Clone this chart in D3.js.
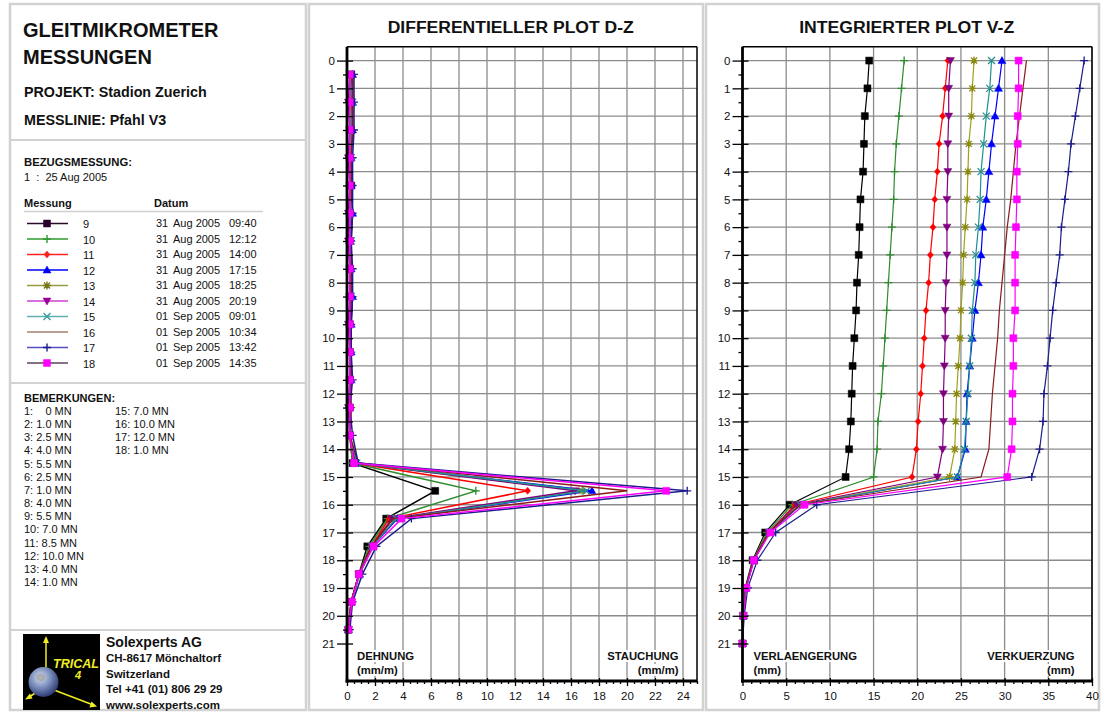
<!DOCTYPE html>
<html>
<head>
<meta charset="utf-8">
<script src="https://cdn.jsdelivr.net/npm/d3@7/dist/d3.min.js"></script>
<style>
  body { margin: 0; background: #fff; }
  svg text { font-family: "Liberation Sans", Arial, sans-serif; fill: #111; }
</style>
</head>
<body>
<div id="chart"></div>
<script>
// ---- data ----
const depthTicks = [0,1,2,3,4,5,6,7,8,9,10,11,12,13,14,15,16,17,18,19,20,21];
const depthsInt  = [0,1,2,3,4,5,6,7,8,9,10,11,12,13,14,15,16,17,18,19,20,21];
const depthsDiff = [0.5,1.5,2.5,3.5,4.5,5.5,6.5,7.5,8.5,9.5,10.5,11.5,12.5,13.5,14.5,15.5,16.5,17.5,18.5,19.5,20.5];
const diffTicks = [0,2,4,6,8,10,12,14,16,18,20,22,24];
const intTicks  = [0,5,10,15,20,25,30,35,40];

const measIds    = [9,10,11,12,13,14,15,16,17,18];
const measDays   = ['31','31','31','31','31','31','01','01','01','01'];
const measMonths = ['Aug 2005','Aug 2005','Aug 2005','Aug 2005','Aug 2005','Aug 2005','Sep 2005','Sep 2005','Sep 2005','Sep 2005'];
const measTimes  = ['09:40','12:12','14:00','17:15','18:25','20:19','09:01','10:34','13:42','14:35'];

const remarksCol1 = ['1:    0 MN','2: 1.0 MN','3: 2.5 MN','4: 4.0 MN','5: 5.5 MN','6: 2.5 MN','7: 1.0 MN',
                     '8: 4.0 MN','9: 5.5 MN','10: 7.0 MN','11: 8.5 MN','12: 10.0 MN','13: 4.0 MN','14: 1.0 MN'];
const remarksCol2 = ['15: 7.0 MN','16: 10.0 MN','17: 12.0 MN','18: 1.0 MN'];

// differential D-Z (mm/m) at depthsDiff
const dz9  = [0.3,0.3,0.2,0.2,0.3,0.2,0.2,0.2,0.2,0.2,0.2,0.2,0.2,0.2,0.4,6.3,2.8,1.45,0.85,0.3,0.1];
const dz10 = [0.3,0.3,0.3,0.2,0.2,0.2,0.2,0.2,0.2,0.2,0.2,0.2,0.3,0.2,0.4,9.2,2.9,1.6,0.85,0.3,0.1];
const dz11 = [0.3,0.3,0.4,0.2,0.3,0.2,0.3,0.2,0.3,0.2,0.2,0.2,0.3,0.2,0.5,12.9,3.0,1.75,0.85,0.3,0.1];
const dz12 = [0.4,0.4,0.4,0.3,0.3,0.4,0.2,0.3,0.4,0.3,0.3,0.3,0.2,0.2,0.6,17.5,3.6,1.8,0.9,0.3,0.1];
const dz13 = [0.2,0.2,0.3,0.2,0.2,0.2,0.2,0.2,0.2,0.2,0.2,0.2,0.2,0.2,0.6,16.8,3.3,1.8,0.9,0.3,0.1];
const dz14 = [0.2,0.1,0.2,0.1,0.2,0.1,0.1,0.2,0.2,0.1,0.2,0.2,0.1,0.2,0.6,16.3,3.2,1.75,0.85,0.3,0.1];
const dz15 = [0.2,0.4,0.3,0.3,0.2,0.2,0.3,0.2,0.3,0.2,0.2,0.2,0.2,0.2,0.7,17.1,3.5,1.8,0.9,0.3,0.1];
const dz16 = [0.4,0.4,0.4,0.3,0.3,0.4,0.3,0.3,0.3,0.2,0.3,0.3,0.2,0.2,0.8,20.0,3.3,1.75,0.85,0.3,0.1];
const dz17 = [0.5,0.5,0.5,0.4,0.4,0.4,0.3,0.4,0.4,0.3,0.3,0.4,0.2,0.4,0.8,24.3,4.6,2.1,1.1,0.4,0.2];
const dz18 = [0.2,0.2,0.2,0.2,0.2,0.2,0.2,0.2,0.2,0.2,0.2,0.2,0.2,0.2,0.5,22.8,3.9,1.9,0.85,0.35,0.1];

// integrated V-Z (mm) at depthsInt
const vz9  = [14.5,14.3,14.0,13.9,13.8,13.5,13.4,13.3,13.1,13.0,12.8,12.6,12.5,12.4,12.2,11.8,5.4,2.6,1.15,0.3,0.1,0];
const vz10 = [18.5,18.2,17.9,17.6,17.4,17.3,17.1,16.9,16.7,16.5,16.3,16.1,15.9,15.5,15.4,15.0,5.7,2.8,1.2,0.35,0.1,0];
const vz11 = [23.5,23.2,22.9,22.5,22.3,22.0,21.8,21.5,21.3,21.0,20.8,20.6,20.4,20.1,19.9,19.4,6.0,3.0,1.25,0.4,0.1,0];
const vz12 = [29.7,29.3,28.9,28.5,28.2,27.9,27.5,27.3,27.0,26.6,26.3,26.0,25.7,25.6,25.5,24.6,6.7,3.1,1.3,0.4,0.1,0];
const vz13 = [26.5,26.3,26.2,25.9,25.8,25.7,25.5,25.3,25.2,25.0,24.9,24.7,24.5,24.4,24.3,23.7,6.4,3.1,1.3,0.4,0.1,0];
const vz14 = [23.8,23.6,23.6,23.5,23.5,23.4,23.4,23.4,23.3,23.2,23.2,23.1,23.0,23.0,22.9,22.3,6.2,3.0,1.25,0.4,0.1,0];
const vz15 = [28.5,28.3,27.9,27.6,27.3,27.2,27.0,26.7,26.6,26.3,26.2,26.0,25.8,25.6,25.4,24.6,6.6,3.1,1.3,0.4,0.1,0];
const vz16 = [32.5,32.1,31.7,31.3,31.0,30.7,30.3,30.0,29.7,29.4,29.2,28.9,28.6,28.4,28.2,27.3,6.6,3.0,1.25,0.4,0.1,0];
const vz17 = [39.1,38.6,38.1,37.6,37.3,36.9,36.5,36.3,35.9,35.5,35.2,34.9,34.5,34.4,34.0,33.1,8.5,3.8,1.7,0.6,0.2,0];
const vz18 = [31.6,31.6,31.5,31.5,31.4,31.4,31.3,31.2,31.2,31.2,31.0,31.0,30.9,30.9,30.8,30.3,7.1,3.2,1.3,0.45,0.1,0];

const diffValues = [dz9,dz10,dz11,dz12,dz13,dz14,dz15,dz16,dz17,dz18];
const intValues  = [vz9,vz10,vz11,vz12,vz13,vz14,vz15,vz16,vz17,vz18];

// ---- styles ----
const lineColors   = ['#000000','#2e8b2e','#ff0000','#0000ff','#a0a020','#800080','#209090','#8b1a1a','#1c1c8c','#ff00ff'];
const markerColors = ['#000000','#2e8b2e','#ff0000','#0000ff','#8a8a10','#800080','#209090','#8b1a1a','#1c1c8c','#ff00ff'];
const legendLineColors   = ['#2a0a2a','#2e9a2e','#ff2020','#0000ff','#9a9a40','#d040d0','#60b0b0','#a08070','#5050c0','#604060'];
const legendMarkerColors = ['#2a002a','#2e9a2e','#ff2020','#0000ff','#77771a','#990099','#3a9a9a','none','#1c1c8c','#ff00ff'];
const markerTypes = ['square','plus','diamond','triUp','asterisk','triDown','times','none','plus','square'];

const markerPaths = {
  square: 'M-3.5,-3.5H3.5V3.5H-3.5Z',
  plus: 'M-4,0H4M0,-4V4',
  diamond: 'M0,-3.5L3,0L0,3.5L-3,0Z',
  triUp: 'M0,-4L4,3L-4,3Z',
  triDown: 'M0,4L4,-3L-4,-3Z',
  asterisk: 'M-4,0H4M0,-4V4M-3,-3L3,3M-3,3L3,-3',
  times: 'M-3.5,-3.5L3.5,3.5M-3.5,3.5L3.5,-3.5',
  none: ''
};
const filledMarkers = ['square','diamond','triUp','triDown'];

const series = measIds.map((id, i) => ({
  id: id,
  color: lineColors[i],
  mColor: markerColors[i],
  marker: markerTypes[i],
  diff: depthsDiff.map((z, k) => ({ z: z, v: diffValues[i][k] })),
  integ: depthsInt.map((z, k) => ({ z: z, v: intValues[i][k] }))
}));

const W = 1105, H = 713;
const frameColor = '#d2d2d2';
const gridColor = '#8c8c8c';
const plotTop = 46.7, plotBottom = 681;

const svg = d3.select('#chart')
  .append('svg')
  .attr('width', W)
  .attr('height', H);

// ---- panel frames ----
[[10, 4, 296, 706], [309, 4, 394, 706], [706, 4, 393, 706]].forEach(r => {
  svg.append('rect')
    .attr('x', r[0]).attr('y', r[1]).attr('width', r[2]).attr('height', r[3])
    .attr('fill', '#fff').attr('stroke', frameColor).attr('stroke-width', 2.5);
});
[140, 383, 630].forEach(y => {
  svg.append('line').attr('x1', 10).attr('x2', 306).attr('y1', y).attr('y2', y)
    .attr('stroke', frameColor).attr('stroke-width', 2);
});

// ---- left panel texts ----
const left = svg.append('g');
left.append('text').attr('x', 23).attr('y', 37).attr('font-size', 20).attr('font-weight', 'bold').text('GLEITMIKROMETER');
left.append('text').attr('x', 23).attr('y', 64).attr('font-size', 20).attr('font-weight', 'bold').text('MESSUNGEN');
left.append('text').attr('x', 24).attr('y', 97).attr('font-size', 14.3).attr('font-weight', 'bold').text('PROJEKT: Stadion Zuerich');
left.append('text').attr('x', 24).attr('y', 125).attr('font-size', 14.3).attr('font-weight', 'bold').text('MESSLINIE: Pfahl V3');
left.append('text').attr('x', 24).attr('y', 165.5).attr('font-size', 11.3).attr('font-weight', 'bold').text('BEZUGSMESSUNG:');
left.append('text').attr('x', 24).attr('y', 181).attr('font-size', 11).style('white-space', 'pre').text('1  :  25 Aug 2005');

left.append('text').attr('x', 24).attr('y', 206.5).attr('font-size', 11).attr('font-weight', 'bold').text('Messung');
left.append('text').attr('x', 154).attr('y', 206.5).attr('font-size', 11).attr('font-weight', 'bold').text('Datum');
left.append('line').attr('x1', 24).attr('x2', 263).attr('y1', 211.5).attr('y2', 211.5)
  .attr('stroke', '#d0d0d0').attr('stroke-width', 1.5);

const rows = left.selectAll('.legend-row')
  .data(measIds)
  .enter()
  .append('g')
  .attr('class', 'legend-row')
  .attr('transform', (d, i) => `translate(0,${227 + i * 15.5})`);
rows.append('line')
  .attr('x1', 27).attr('x2', 68).attr('y1', -3.5).attr('y2', -3.5)
  .attr('stroke', (d, i) => legendLineColors[i]).attr('stroke-width', 1.6);
rows.append('path')
  .attr('transform', 'translate(47,-3.5)')
  .attr('d', (d, i) => markerPaths[markerTypes[i]])
  .attr('fill', (d, i) => filledMarkers.includes(markerTypes[i]) ? legendMarkerColors[i] : 'none')
  .attr('stroke', (d, i) => legendMarkerColors[i])
  .attr('stroke-width', (d, i) => filledMarkers.includes(markerTypes[i]) ? 0.5 : 1.4);
rows.append('text').attr('x', 83).attr('y', 1).attr('font-size', 11).text(d => d);
rows.append('text').attr('x', 156).attr('y', 0).attr('font-size', 11).text((d, i) => measDays[i]);
rows.append('text').attr('x', 173).attr('y', 0).attr('font-size', 11).text((d, i) => measMonths[i]);
rows.append('text').attr('x', 229).attr('y', 0).attr('font-size', 11).text((d, i) => measTimes[i]);

left.append('text').attr('x', 24).attr('y', 402).attr('font-size', 11).attr('font-weight', 'bold').text('BEMERKUNGEN:');
left.selectAll('.rem1').data(remarksCol1).enter().append('text')
  .attr('x', 24).attr('y', (d, i) => 415 + i * 13.15).attr('font-size', 11)
  .style('white-space', 'pre').text(d => d);
left.selectAll('.rem2').data(remarksCol2).enter().append('text')
  .attr('x', 115).attr('y', (d, i) => 415 + i * 13.15).attr('font-size', 11)
  .style('white-space', 'pre').text(d => d);

// ---- logo ----
const defs = svg.append('defs');
const grad = defs.append('radialGradient').attr('id', 'globe').attr('cx', '40%').attr('cy', '35%').attr('r', '70%');
grad.append('stop').attr('offset', '0%').attr('stop-color', '#d8e0f0');
grad.append('stop').attr('offset', '45%').attr('stop-color', '#7f93c0');
grad.append('stop').attr('offset', '100%').attr('stop-color', '#24306a');

const logo = svg.append('g');
logo.append('rect').attr('x', 23).attr('y', 634).attr('width', 77).attr('height', 76).attr('fill', '#000');
const yellow = '#f0ee20';
logo.append('line').attr('x1', 46).attr('y1', 670).attr('x2', 46).attr('y2', 640).attr('stroke', yellow).attr('stroke-width', 1.5);
logo.append('path').attr('d', 'M46,636L43,643L49,643Z').attr('fill', yellow);
logo.append('line').attr('x1', 40).attr('y1', 690).attr('x2', 29).attr('y2', 697).attr('stroke', yellow).attr('stroke-width', 1.5);
logo.append('path').attr('d', 'M25,699.5L30,693.5L32.5,698.5Z').attr('fill', yellow);
logo.append('line').attr('x1', 54).attr('y1', 690).attr('x2', 92).attr('y2', 704.5).attr('stroke', yellow).attr('stroke-width', 1.5);
logo.append('path').attr('d', 'M97,706.5L89.5,707.5L91.5,701.5Z').attr('fill', yellow);
logo.append('circle').attr('cx', 43.5).attr('cy', 682).attr('r', 15).attr('fill', 'url(#globe)');
logo.append('path').attr('d', 'M36,676 q4,-4 8,-1 q3,3 -1,6 q-5,2 -7,-5Z').attr('fill', '#9a9a8a').attr('opacity', 0.6);
logo.append('text').attr('x', 53).attr('y', 668).attr('font-size', 12.5).attr('font-weight', 'bold')
  .attr('font-style', 'italic').style('fill', yellow).text('TRICAL');
logo.append('text').attr('x', 75).attr('y', 679).attr('font-size', 11).attr('font-weight', 'bold')
  .attr('font-style', 'italic').style('fill', yellow).text('4');

const company = ['Solexperts AG', 'CH-8617 Mönchaltorf', 'Switzerland', 'Tel +41 (01) 806 29 29', 'www.solexperts.com'];
logo.selectAll('.comp').data(company).enter().append('text')
  .attr('x', 106)
  .attr('y', (d, i) => i === 0 ? 646.5 : 646.5 + 15.5 * i)
  .attr('font-size', (d, i) => i === 0 ? 14 : 11.5)
  .attr('font-weight', 'bold')
  .text(d => d);

// ---- charts ----
const yScale = d3.scaleLinear().domain([-0.5, 22.35]).range([plotTop, plotBottom]);

function drawPlot(p) {
  const x = d3.scaleLinear().domain(p.domain).range([p.x0, p.x1]);
  const g = svg.append('g');

  g.append('text')
    .attr('x', p.titleX).attr('y', 33)
    .attr('text-anchor', 'middle')
    .attr('font-size', 16).attr('font-weight', 'bold')
    .attr('textLength', p.titleW).attr('lengthAdjust', 'spacingAndGlyphs')
    .text(p.title);

  g.selectAll('.vgrid').data(p.ticks.slice(1)).enter().append('line')
    .attr('class', 'vgrid')
    .attr('x1', d => x(d)).attr('x2', d => x(d))
    .attr('y1', plotTop).attr('y2', plotBottom)
    .attr('stroke', gridColor).attr('stroke-width', 1.3);
  g.selectAll('.hgrid').data(depthTicks.slice(0, -1)).enter().append('line')
    .attr('class', 'hgrid')
    .attr('x1', p.x0).attr('x2', p.x1)
    .attr('y1', d => yScale(d)).attr('y2', d => yScale(d))
    .attr('stroke', gridColor).attr('stroke-width', 1.3);

  // corner labels on white boxes
  p.labels.forEach(l => {
    const t = g.append('text')
      .attr('x', l.x).attr('y', l.y)
      .attr('text-anchor', l.anchor)
      .attr('font-size', 11.3).attr('font-weight', 'bold')
      .text(l.text);
    const b = t.node().getBBox();
    g.insert('rect', () => t.node())
      .attr('x', b.x - 1).attr('y', b.y).attr('width', b.width + 2).attr('height', b.height)
      .attr('fill', '#fff');
  });

  const line = d3.line()
    .x(d => x(d.v))
    .y(d => yScale(d.z));

  series.forEach(s => {
    const pts = s[p.key];
    g.append('path')
      .datum(pts)
      .attr('d', line)
      .attr('fill', 'none')
      .attr('stroke', s.color)
      .attr('stroke-width', p.lineWidth);
    if (s.marker !== 'none') {
      const filled = filledMarkers.includes(s.marker);
      g.selectAll(null).data(pts).enter().append('path')
        .attr('transform', d => `translate(${x(d.v)},${yScale(d.z)})`)
        .attr('d', markerPaths[s.marker])
        .attr('fill', filled ? s.mColor : 'none')
        .attr('stroke', s.mColor)
        .attr('stroke-width', filled ? 0.5 : 1.3);
    }
  });

  // frame top / right
  g.append('line').attr('x1', p.x0).attr('x2', p.x1).attr('y1', plotTop).attr('y2', plotTop)
    .attr('stroke', '#000').attr('stroke-width', 1.5);
  g.append('line').attr('x1', p.x1).attr('x2', p.x1).attr('y1', plotTop).attr('y2', plotBottom)
    .attr('stroke', '#000').attr('stroke-width', 1.5);

  // y axis
  const yAxis = g.append('g').attr('transform', `translate(${p.x0},0)`);
  yAxis.call(d3.axisLeft(yScale).tickValues(depthTicks).tickSize(10).tickPadding(2).tickSizeOuter(0))
    .call(a => a.select('.domain').remove());
  yAxis.append('g').call(d3.axisRight(yScale).tickValues(depthTicks).tickSize(6).tickFormat('').tickSizeOuter(0))
    .call(a => a.select('.domain').remove());
  yAxis.append('g').call(d3.axisLeft(yScale).tickValues(depthsDiff).tickSize(4).tickFormat('').tickSizeOuter(0))
    .call(a => a.select('.domain').remove());
  yAxis.selectAll('line').attr('stroke', '#000').attr('stroke-width', 1.3);
  yAxis.selectAll('text').attr('font-size', 11.5).style('fill', '#111');
  yAxis.append('line').attr('x1', 0).attr('x2', 0).attr('y1', plotTop).attr('y2', plotBottom + 1.5)
    .attr('stroke', '#000').attr('stroke-width', 2.8);

  // x axis
  const xAxis = g.append('g').attr('transform', `translate(0,${plotBottom})`);
  xAxis.call(d3.axisBottom(x).tickValues(p.ticks).tickSize(5).tickPadding(6).tickSizeOuter(0))
    .call(a => a.select('.domain').remove());
  xAxis.append('g').call(d3.axisTop(x).tickValues(p.ticks).tickSize(3).tickFormat('').tickSizeOuter(0))
    .call(a => a.select('.domain').remove());
  xAxis.append('g').call(d3.axisBottom(x).tickValues(p.minor).tickSize(3).tickFormat('').tickSizeOuter(0))
    .call(a => a.select('.domain').remove());
  xAxis.selectAll('line').attr('stroke', '#000').attr('stroke-width', 1.3);
  xAxis.selectAll('text').attr('font-size', 11.5).style('fill', '#111');
  xAxis.append('line').attr('x1', p.x0 - 1.4).attr('x2', p.x1).attr('y1', 0).attr('y2', 0)
    .attr('stroke', '#000').attr('stroke-width', 2.8);
}

const xd = d3.scaleLinear().domain([0, 25]);
drawPlot({
  key: 'diff',
  title: 'DIFFERENTIELLER PLOT D-Z', titleX: 510.7, titleW: 246,
  domain: [0, 25], x0: 347, x1: 697,
  ticks: diffTicks,
  minor: xd.ticks(50).filter(v => v % 2 !== 0),
  lineWidth: 1.5,
  labels: [
    { text: 'DEHNUNG', x: 357, y: 660, anchor: 'start' },
    { text: '(mm/m)', x: 357, y: 674, anchor: 'start' },
    { text: 'STAUCHUNG', x: 678.5, y: 660, anchor: 'end' },
    { text: '(mm/m)', x: 678.5, y: 674, anchor: 'end' }
  ]
});

const xi = d3.scaleLinear().domain([0, 40]);
drawPlot({
  key: 'integ',
  title: 'INTEGRIERTER PLOT V-Z', titleX: 906.7, titleW: 215,
  domain: [0, 40], x0: 742.5, x1: 1092,
  ticks: intTicks,
  minor: xi.ticks(40).filter(v => v % 5 !== 0),
  lineWidth: 1.2,
  labels: [
    { text: 'VERLAENGERUNG', x: 753.5, y: 660, anchor: 'start' },
    { text: '(mm)', x: 753.5, y: 674, anchor: 'start' },
    { text: 'VERKUERZUNG', x: 1074.5, y: 660, anchor: 'end' },
    { text: '(mm)', x: 1074.5, y: 674, anchor: 'end' }
  ]
});
</script>
</body>
</html>
